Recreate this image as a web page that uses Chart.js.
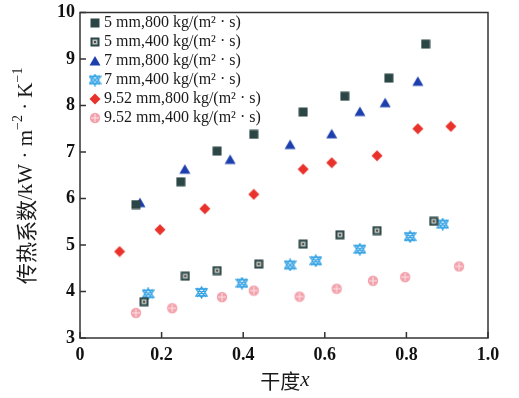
<!DOCTYPE html>
<html>
<head>
<meta charset="utf-8">
<script src="https://cdn.jsdelivr.net/npm/chart.js@4.4.1/dist/chart.umd.min.js"></script>
<style>
  html, body { margin: 0; background: #fff; }
</style>
</head>
<body>
<canvas id="chart" width="519" height="398"></canvas>
<script>
// data (dryness x, coefficient kW/(m2 K))
const seriesNames = [
  '5 mm,800 kg/(m² · s)',
  '5 mm,400 kg/(m² · s)',
  '7 mm,800 kg/(m² · s)',
  '7 mm,400 kg/(m² · s)',
  '9.52 mm,800 kg/(m² · s)',
  '9.52 mm,400 kg/(m² · s)'
];
const x5_800 = [0.137, 0.247, 0.336, 0.426, 0.547, 0.649, 0.757, 0.847];
const y5_800 = [5.87, 6.36, 7.02, 7.38, 7.86, 8.20, 8.59, 9.32];
const x5_400 = [0.157, 0.258, 0.336, 0.438, 0.547, 0.637, 0.728, 0.867];
const y5_400 = [3.78, 4.33, 4.45, 4.59, 5.02, 5.22, 5.31, 5.51];
const x7_800 = [0.147, 0.257, 0.368, 0.515, 0.617, 0.686, 0.748, 0.828];
const y7_800 = [5.91, 6.63, 6.84, 7.16, 7.39, 7.87, 8.06, 8.52];
const x7_400 = [0.167, 0.298, 0.397, 0.515, 0.578, 0.686, 0.809, 0.889];
const y7_400 = [3.95, 3.98, 4.18, 4.57, 4.66, 4.91, 5.18, 5.45];
const x952_800 = [0.097, 0.196, 0.306, 0.426, 0.547, 0.617, 0.728, 0.828, 0.909];
const y952_800 = [4.86, 5.33, 5.78, 6.09, 6.63, 6.77, 6.92, 7.50, 7.55];
const x952_400 = [0.137, 0.226, 0.348, 0.426, 0.538, 0.629, 0.718, 0.797, 0.929];
const y952_400 = [3.54, 3.64, 3.88, 4.02, 3.89, 4.06, 4.23, 4.31, 4.54];
const xTicks = [0, 0.2, 0.4, 0.6, 0.8, 1.0];
const yTicks = [3, 4, 5, 6, 7, 8, 9, 10];

const pts = (xs, ys) => xs.map((x, i) => ({ x: x, y: ys[i] }));

// marker glyphs drawn on small canvases
function marker(size, draw) {
  const c = document.createElement('canvas');
  c.width = size; c.height = size;
  draw(c.getContext('2d'), size);
  return c;
}
const mSquare = marker(10, (g, s) => {
  g.fillStyle = '#2c4646';
  g.fillRect(0.5, 0.5, 9, 9);
});
const mSquareHatch = marker(10, (g, s) => {
  g.fillStyle = '#2c4646';
  g.fillRect(0.5, 0.5, 9, 9);
  g.fillStyle = '#b8c2c0';
  g.fillRect(2.5, 2.5, 5, 5);
  g.fillStyle = '#5a4a40';
  g.fillRect(4, 4, 2, 2);
});
const mTriangle = marker(12, (g, s) => {
  g.fillStyle = '#1d3fae';
  g.beginPath();
  g.moveTo(6, 1); g.lineTo(11.5, 10.5); g.lineTo(0.5, 10.5);
  g.closePath(); g.fill();
});
const mStar = marker(13, (g, s) => {
  g.strokeStyle = '#2a9de2';
  g.lineWidth = 1.3;
  g.beginPath();
  g.moveTo(6.5, 1); g.lineTo(12, 10); g.lineTo(1, 10); g.closePath();
  g.moveTo(6.5, 12); g.lineTo(12, 3); g.lineTo(1, 3); g.closePath();
  g.moveTo(2, 2); g.lineTo(11, 11);
  g.moveTo(11, 2); g.lineTo(2, 11);
  g.stroke();
});
const mDiamond = marker(12, (g, s) => {
  g.fillStyle = '#e8322b';
  g.beginPath();
  g.moveTo(6, 0.5); g.lineTo(11.5, 6); g.lineTo(6, 11.5); g.lineTo(0.5, 6);
  g.closePath(); g.fill();
});
const mPink = marker(12, (g, s) => {
  g.fillStyle = '#f3a2ac';
  g.beginPath(); g.arc(6, 6, 5.2, 0, Math.PI * 2); g.fill();
  g.strokeStyle = '#fde4e7';
  g.lineWidth = 1;
  g.beginPath();
  g.moveTo(6, 2); g.lineTo(6, 10);
  g.moveTo(2, 6); g.lineTo(10, 6);
  g.stroke();
});
const markers = [mSquare, mSquareHatch, mTriangle, mStar, mDiamond, mPink];

const serif = '"Liberation Serif", "DejaVu Serif", serif';
const cjk = '"Noto Sans CJK SC", sans-serif';

const frame = {
  id: 'frame',
  afterDraw(chart) {
    const g = chart.ctx;
    const a = chart.chartArea;
    const sx = chart.scales.x, sy = chart.scales.y;
    g.save();
    g.strokeStyle = '#333';
    g.lineWidth = 1.5;
    g.strokeRect(a.left, a.top, a.right - a.left, a.bottom - a.top);
    // inward tick marks
    g.beginPath();
    xTicks.forEach(v => {
      const px = sx.getPixelForValue(v);
      g.moveTo(px, a.bottom); g.lineTo(px, a.bottom - 6);
    });
    yTicks.forEach(v => {
      const py = sy.getPixelForValue(v);
      g.moveTo(a.left, py); g.lineTo(a.left + 6, py);
    });
    g.stroke();

    // legend, top left inside the plot
    g.textBaseline = 'middle';
    g.textAlign = 'left';
    g.fillStyle = '#1a1a1a';
    g.font = '16px ' + serif;
    chart.data.datasets.forEach((ds, i) => {
      const y = 23 + i * 19;
      const m = markers[i];
      g.drawImage(m, 95 - m.width / 2, y - m.height / 2);
      g.fillText(ds.label, 104, y);
    });

    // y axis title, rotated
    g.save();
    g.translate(26, 284);
    g.rotate(-Math.PI / 2);
    let cx = 0;
    const seg = (t, font, dy) => {
      g.font = font;
      g.fillText(t, cx, dy || 0);
      cx += g.measureText(t).width;
    };
    seg('传热系数', '21px ' + cjk);
    seg('/kW · m', '21px ' + serif);
    seg('−2', '14px ' + serif, -8);
    seg(' · K', '21px ' + serif);
    seg('−1', '14px ' + serif, -8);
    g.restore();

    // x axis title
    g.font = '20px ' + cjk;
    const w1 = g.measureText('干度').width;
    g.font = 'italic 21px ' + serif;
    const w2 = g.measureText('x').width;
    let x0 = 285 - (w1 + w2) / 2;
    g.font = '20px ' + cjk;
    g.fillText('干度', x0, 381);
    g.font = 'italic 21px ' + serif;
    g.fillText('x', x0 + w1, 380);
    g.restore();
  }
};

const ctx = document.getElementById('chart').getContext('2d');
new Chart(ctx, {
  type: 'scatter',
  data: {
    datasets: [
      { label: seriesNames[0], data: pts(x5_800, y5_800), pointStyle: mSquare },
      { label: seriesNames[1], data: pts(x5_400, y5_400), pointStyle: mSquareHatch },
      { label: seriesNames[2], data: pts(x7_800, y7_800), pointStyle: mTriangle },
      { label: seriesNames[3], data: pts(x7_400, y7_400), pointStyle: mStar },
      { label: seriesNames[4], data: pts(x952_800, y952_800), pointStyle: mDiamond },
      { label: seriesNames[5], data: pts(x952_400, y952_400), pointStyle: mPink }
    ]
  },
  options: {
    responsive: false,
    animation: false,
    devicePixelRatio: 1,
    layout: { padding: { left: 0, right: 31, top: 12.5, bottom: 0 } },
    plugins: {
      legend: { display: false },
      tooltip: { enabled: false }
    },
    scales: {
      x: {
        type: 'linear', min: 0, max: 1,
        afterFit: s => { s.height = 60; s.paddingLeft = 0; s.paddingRight = 0; },
        afterBuildTicks: s => { s.ticks = xTicks.map(v => ({ value: v })); },
        grid: { display: false, drawTicks: false },
        border: { display: false },
        ticks: {
          padding: 7,
          color: '#111',
          font: { family: serif, size: 18, weight: 'bold' },
          callback: v => v === 0 ? '0' : v.toFixed(1)
        }
      },
      y: {
        type: 'linear', min: 3, max: 10,
        afterFit: s => { s.width = 80; s.paddingTop = 0; s.paddingBottom = 0; },
        afterBuildTicks: s => { s.ticks = yTicks.map(v => ({ value: v })); },
        grid: { display: false, drawTicks: false },
        border: { display: false },
        ticks: {
          padding: 5,
          color: '#111',
          font: { family: serif, size: 18, weight: 'bold' }
        }
      }
    }
  },
  plugins: [frame]
});
</script>
</body>
</html>
